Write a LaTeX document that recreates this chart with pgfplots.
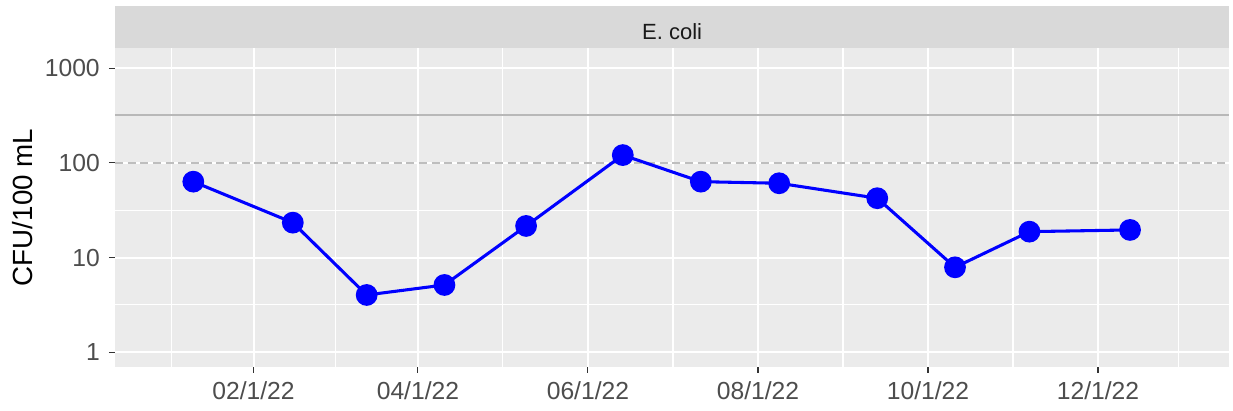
\documentclass[border=0pt]{standalone}
\usepackage{fontspec}
\setmainfont{Liberation Sans}
\usepackage{pgfplots}
\pgfplotsset{compat=1.18}
\definecolor{panelbg}{HTML}{EBEBEB}
\definecolor{stripbg}{HTML}{D9D9D9}
\definecolor{ticktxt}{HTML}{4D4D4D}
\definecolor{tickcol}{HTML}{333333}
\definecolor{refline}{HTML}{BEBEBE}
\definecolor{limline}{HTML}{B8B8B8}

\begin{document}
\begin{tikzpicture}
\path[use as bounding box] (-86.25pt,-33.2pt) rectangle (838.5pt,275pt);
\begin{axis}[
  scale only axis, width=835.7pt, height=238.8pt,
  at={(0,0)}, anchor=south west,
  xmin=-18.7, xmax=381.1,
  ymode=log, ymin=0.705, ymax=1626,
  axis line style={draw=none},
  axis background/.style={fill=panelbg},
  xtick={31,90,151,212,273,334},
  xticklabels={02/1/22,04/1/22,06/1/22,08/1/22,10/1/22,12/1/22},
  minor xtick={1.5,60.5,120.5,181.5,242.5,303.5,363},
  ytick={1,10,100,1000}, yticklabels={1,10,100,1000},
  minor ytick={3.162,31.62,316.2},
  grid=both,
  major grid style={white,line width=1.5pt},
  minor grid style={white,line width=0.8pt},
  tick align=outside, tick pos=left,
  major tick length=4.5pt, minor tick length=0pt,
  every tick/.style={tickcol,line width=0.8pt},
  tick label style={font=\fontsize{18.5}{20}\selectfont, text=ticktxt, inner sep=0pt},
  yticklabel style={anchor=east, xshift=-6.75pt},
  xticklabel style={anchor=north, yshift=-6.75pt},
  /pgf/number format/assume math mode=true,
  clip=false,
]
% strip on top of the panel
\fill[stripbg] (rel axis cs:0,1) rectangle ([yshift=31.7pt]rel axis cs:1,1);
\node[anchor=base, text=black!90, font=\fontsize{16.5}{18}\selectfont]
  at ([yshift=6.75pt]rel axis cs:0.5,1) {E. coli};
\node[rotate=90, anchor=center, font=\fontsize{20.8}{24}\selectfont]
  at ([xshift=-69pt]rel axis cs:0,0.5) {CFU/100 mL};

% reference lines
\addplot[refline, line width=1.1pt, dash pattern=on 6pt off 3.5pt, forget plot]
  coordinates {(-18.7,100) (381.1,100)};
\addplot[limline, line width=1.4pt, forget plot]
  coordinates {(-18.7,324) (381.1,324)};

% E. coli samples
\addplot[blue, line width=2.3pt, mark=*, mark size=7pt, mark options={solid}]
  coordinates {(9.4,63.4) (45.1,23.4) (71.6,4.03) (99.5,5.14) (128.8,21.6)
  (163.5,121) (191.5,63.4) (219.6,61) (254.8,42.4) (282.7,7.9)
  (309.4,18.8) (345.5,19.6)};
\end{axis}
\end{tikzpicture}
\end{document}
